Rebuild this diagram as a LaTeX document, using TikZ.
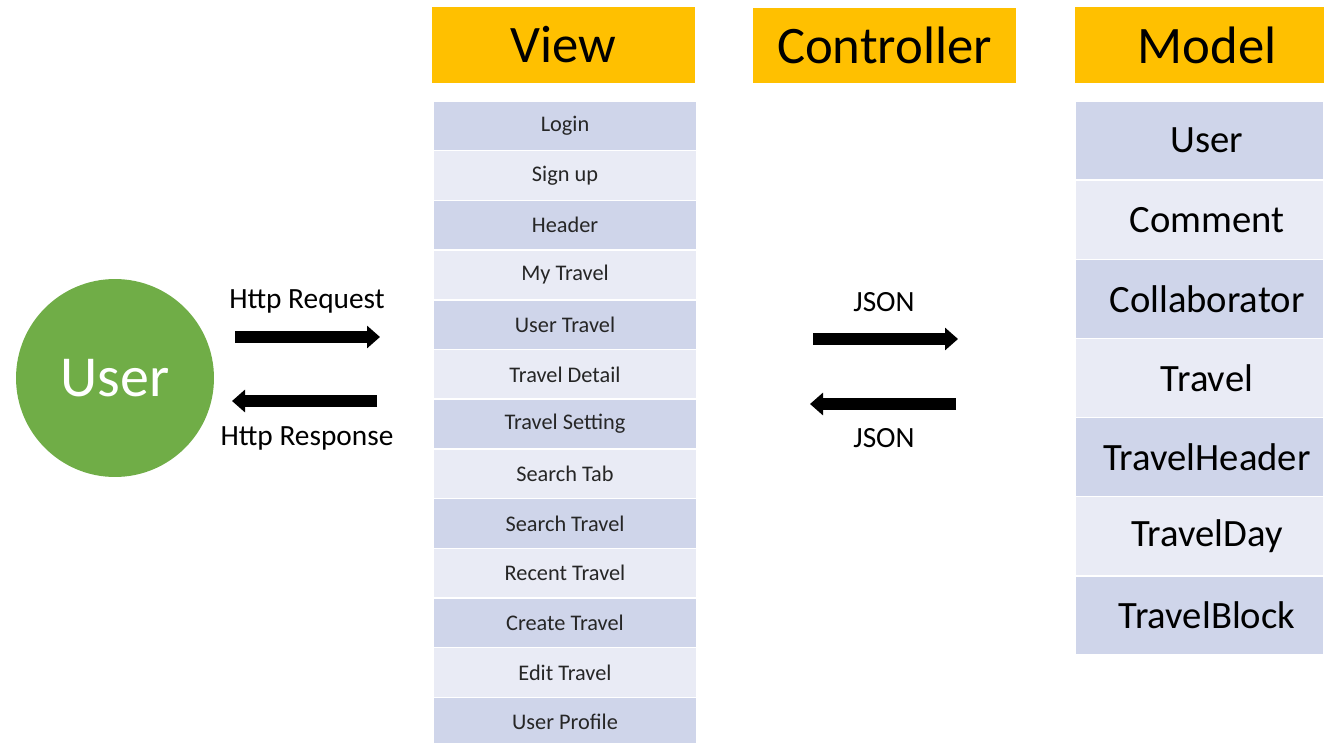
\documentclass[tikz,border=0pt]{standalone}
\usepackage{fontspec}
\setmainfont{Carlito}
\usepackage{tikz}
\usetikzlibrary{positioning}
\usetikzlibrary{arrows.meta}
\definecolor{headfill}{HTML}{FFC000}
\definecolor{userfill}{HTML}{70AD47}
\definecolor{row1}{HTML}{CFD5EA}
\definecolor{row0}{HTML}{E9EBF5}
\definecolor{rowtext}{HTML}{262626}
\tikzstyle{head} = [fill=headfill,inner sep=0pt,minimum height=1.52cm,font=\fontsize{30}{33}\selectfont]
\tikzstyle{viewrow} = [draw=white,line width=0.8pt,inner sep=0pt,minimum width=5.28cm,minimum height=0.994cm,text=rowtext,font=\fontsize{12.7}{14}\selectfont]
\tikzstyle{modelrow} = [draw=white,line width=0.8pt,inner sep=0pt,minimum width=4.98cm,minimum height=1.582cm,text=black,font=\fontsize{22}{24}\selectfont]
\tikzstyle{nudge} = [execute at begin node=\hspace*{0.3cm}]
\tikzstyle{fatarrow} = [line width=6.8pt,-{Triangle[length=7.4pt,width=12.5pt]}]
\tikzstyle{msg} = [inner sep=0pt,font=\fontsize{16.7}{19}\selectfont]

\begin{document}
\begin{tikzpicture}[x=0.02cm,y=-0.02cm]
	\useasboundingbox (0,0) rectangle (1324,743);

	%Headers
	\node [head,minimum width=5.26cm] (view) at (563.5,45) {View};
	\node [head,minimum width=5.26cm] (controller) at (884.5,45.5) {Controller};
	\node [head,nudge,minimum width=4.98cm] (model) at (1199.5,45) {Model};

	%View list
	\foreach \name [count=\i] in {Login, Sign up, Header, My Travel, User Travel, Travel Detail, Travel Setting, Search Tab, Search Travel, Recent Travel, Create Travel, Edit Travel, User Profile}{
		\pgfmathtruncatemacro\shade{mod(\i,2)}
		\node [viewrow,fill=row\shade] (v\i) at (565,{101+49.7*(\i-0.5)}) {\name};
	}

	%Model list
	\foreach \name [count=\i] in {User, Comment, Collaborator, Travel, TravelHeader, TravelDay, TravelBlock}{
		\pgfmathtruncatemacro\shade{mod(\i,2)}
		\node [modelrow,nudge,fill=row\shade] (m\i) at (1199.5,{101+79.14*(\i-0.5)}) {\name};
	}

	%User
	\node [circle,fill=userfill,minimum size=3.96cm,inner sep=0pt,text=white,font=\fontsize{33}{36}\selectfont] (user) at (115,378) {User};

	%Labels
	\node [msg] (req) at (307,301) {Http Request};
	\node [msg] (resp) at (307,438) {Http Response};
	\node [msg] (jsonout) at (884,302) {JSON};
	\node [msg] (jsonin) at (884,438) {JSON};

	%Arrows
	\coordinate (reqs) at (235,337);
	\coordinate (reqe) at (380,337);
	\coordinate (resps) at (377,401);
	\coordinate (respe) at (232,401);
	\coordinate (outs) at (813,339);
	\coordinate (oute) at (958,339);
	\coordinate (ins) at (956,404);
	\coordinate (ine) at (810,404);
	\draw [fatarrow] (reqs) -- (reqe);
	\draw [fatarrow] (resps) -- (respe);
	\draw [fatarrow] (outs) -- (oute);
	\draw [fatarrow] (ins) -- (ine);

\end{tikzpicture}
\end{document}
